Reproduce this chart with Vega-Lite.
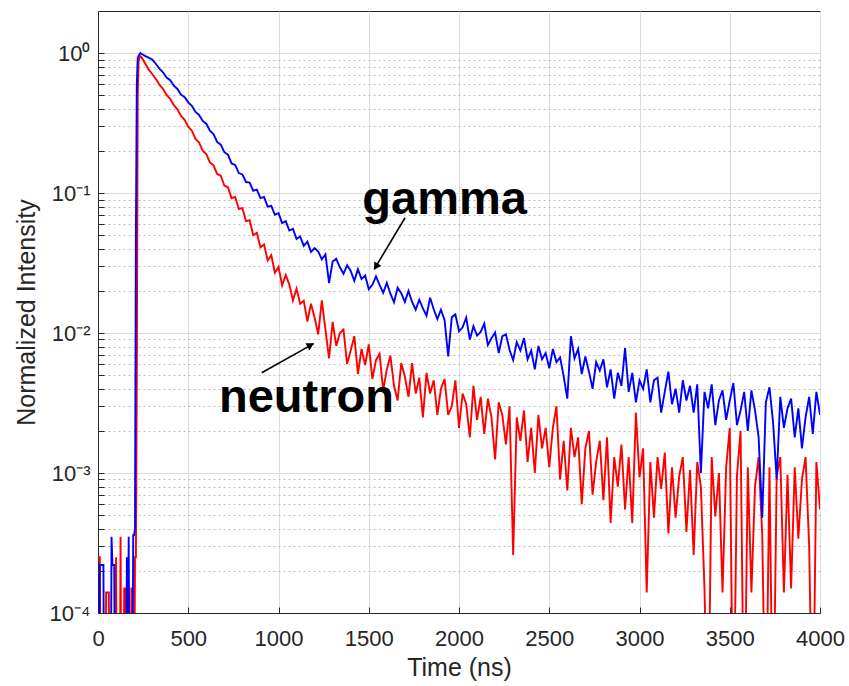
{
"$schema": "https://vega.github.io/schema/vega-lite/v6.json",
"width": 722, "height": 602,
"autosize": {"type": "none"},
"padding": {"left": 98, "top": 11, "right": 29, "bottom": 73},
"background": "white",
"config": {"view": {"stroke": "#262626", "strokeWidth": 1}, "font": "Liberation Sans"},
"datasets": {
"sig": [
{"t":0,"g":1e-5,"n":0.00025},{"t":5,"g":1e-5,"n":0.00025},{"t":10,"g":0.00022,"n":0.00025},{"t":15,"g":0.00022,"n":1e-5},{"t":20,"g":0.00022,"n":1e-5},{"t":25,"g":0.00022,"n":1e-5},{"t":30,"g":0.00022,"n":1e-5},{"t":35,"g":1e-5,"n":1e-5},{"t":40,"g":1e-5,"n":1e-5},{"t":45,"g":1e-5,"n":0.00014},{"t":50,"g":1e-5,"n":0.00014},{"t":55,"g":1e-5,"n":0.00014},{"t":60,"g":1e-5,"n":0.00014},{"t":65,"g":1e-5,"n":1e-5},{"t":70,"g":1e-5,"n":1e-5},{"t":75,"g":0.00035,"n":1e-5},{"t":80,"g":0.00022,"n":1e-5},{"t":85,"g":0.00022,"n":1e-5},{"t":90,"g":0.00022,"n":1e-5},{"t":95,"g":1e-5,"n":1e-5},{"t":100,"g":1e-5,"n":0.00025},{"t":105,"g":1e-5,"n":1e-5},{"t":110,"g":1e-5,"n":1e-5},{"t":115,"g":1e-5,"n":1e-5},{"t":120,"g":1e-5,"n":1e-5},{"t":125,"g":1e-5,"n":0.00035},{"t":130,"g":1e-5,"n":1e-5},{"t":135,"g":1e-5,"n":1e-5},{"t":140,"g":1e-5,"n":1e-5},{"t":145,"g":1e-5,"n":0.00015},{"t":150,"g":1e-5,"n":0.00015},{"t":155,"g":1e-5,"n":1e-5},{"t":160,"g":0.00025,"n":0.00015},{"t":165,"g":1e-5,"n":0.00015},{"t":170,"g":0.00035,"n":0.00015},{"t":175,"g":1e-5,"n":1e-5},{"t":180,"g":1e-5,"n":1e-5},{"t":185,"g":1e-5,"n":0.00015},{"t":190,"g":1e-5,"n":0.00015},{"t":195,"g":0.00036,"n":1e-5},{"t":200,"g":0.00036,"n":1e-5},{"t":205,"g":0.0004,"n":0.00025},{"t":210,"g":0.05,"n":0.00025},{"t":215,"g":0.6,"n":0.005},{"t":220,"g":0.92,"n":0.5},{"t":225,"g":0.96,"n":0.88},{"t":230,"g":0.98,"n":0.93},{"t":235,"g":1.0,"n":0.95},{"t":240,"g":0.99,"n":0.94},
{"t":260,"g":0.955,"n":0.85},{"t":280,"g":0.93,"n":0.765},{"t":300,"g":0.9,"n":0.71},{"t":320,"g":0.84,"n":0.655},{"t":340,"g":0.775,"n":0.595},{"t":360,"g":0.73,"n":0.556},{"t":380,"g":0.67,"n":0.503},{"t":400,"g":0.64,"n":0.472},{"t":420,"g":0.585,"n":0.425},{"t":440,"g":0.555,"n":0.397},{"t":460,"g":0.505,"n":0.356},{"t":480,"g":0.485,"n":0.334},{"t":500,"g":0.445,"n":0.298},{"t":520,"g":0.42,"n":0.279},{"t":540,"g":0.38,"n":0.244},{"t":560,"g":0.362,"n":0.23},{"t":580,"g":0.328,"n":0.201},{"t":600,"g":0.313,"n":0.19},{"t":620,"g":0.279,"n":0.166},{"t":640,"g":0.264,"n":0.158},{"t":660,"g":0.232,"n":0.137},{"t":680,"g":0.222,"n":0.133},{"t":700,"g":0.196,"n":0.113},{"t":720,"g":0.188,"n":0.11},{"t":740,"g":0.163,"n":0.092},{"t":760,"g":0.159,"n":0.094},{"t":780,"g":0.139,"n":0.077},{"t":800,"g":0.136,"n":0.078},{"t":820,"g":0.12,"n":0.063},{"t":840,"g":0.119,"n":0.064},{"t":860,"g":0.104,"n":0.05},{"t":880,"g":0.106,"n":0.052},{"t":900,"g":0.092,"n":0.041},{"t":920,"g":0.094,"n":0.043},{"t":940,"g":0.08,"n":0.033},{"t":960,"g":0.081,"n":0.036},{"t":980,"g":0.07,"n":0.027},{"t":1000,"g":0.072,"n":0.0297},
{"t":1020,"g":0.061,"n":0.0219},{"t":1040,"g":0.063,"n":0.026},{"t":1060,"g":0.054,"n":0.0222},{"t":1080,"g":0.0555,"n":0.0171},{"t":1100,"g":0.047,"n":0.0208},{"t":1120,"g":0.049,"n":0.0162},{"t":1140,"g":0.042,"n":0.017},{"t":1160,"g":0.045,"n":0.0121},{"t":1180,"g":0.038,"n":0.0162},{"t":1200,"g":0.0405,"n":0.0129},{"t":1220,"g":0.0383,"n":0.0098},{"t":1240,"g":0.0336,"n":0.0171},{"t":1260,"g":0.0365,"n":0.0106},{"t":1280,"g":0.0228,"n":0.0066},{"t":1300,"g":0.0324,"n":0.012},{"t":1320,"g":0.0339,"n":0.0081},{"t":1340,"g":0.0295,"n":0.01},{"t":1360,"g":0.0265,"n":0.0106},{"t":1380,"g":0.0305,"n":0.006},{"t":1400,"g":0.0278,"n":0.0075},{"t":1420,"g":0.0236,"n":0.0095},{"t":1440,"g":0.0286,"n":0.0051},{"t":1460,"g":0.0243,"n":0.0077},{"t":1480,"g":0.0258,"n":0.0059},{"t":1500,"g":0.0206,"n":0.0083},
{"t":1520,"g":0.0221,"n":0.0047},{"t":1540,"g":0.0254,"n":0.0064},{"t":1560,"g":0.0221,"n":0.0071},{"t":1580,"g":0.0194,"n":0.0039},{"t":1600,"g":0.0228,"n":0.0055},{"t":1620,"g":0.0191,"n":0.0069},{"t":1640,"g":0.0166,"n":0.0042},{"t":1660,"g":0.0211,"n":0.0033},{"t":1680,"g":0.0193,"n":0.0061},{"t":1700,"g":0.0167,"n":0.0049},{"t":1720,"g":0.02,"n":0.0035},{"t":1740,"g":0.0167,"n":0.0061},{"t":1760,"g":0.0147,"n":0.0037},{"t":1780,"g":0.0173,"n":0.0048},{"t":1800,"g":0.015,"n":0.0025},{"t":1820,"g":0.0133,"n":0.0052},{"t":1840,"g":0.0179,"n":0.0037},{"t":1860,"g":0.0148,"n":0.0046},{"t":1880,"g":0.0126,"n":0.0026},{"t":1900,"g":0.0147,"n":0.004},{"t":1920,"g":0.0124,"n":0.0047},{"t":1940,"g":0.0068,"n":0.0026},{"t":1960,"g":0.013,"n":0.003},{"t":1980,"g":0.0136,"n":0.0046},{"t":2000,"g":0.0103,"n":0.0021},
{"t":2020,"g":0.011,"n":0.0037},{"t":2040,"g":0.0129,"n":0.0031},{"t":2060,"g":0.009,"n":0.0018},{"t":2080,"g":0.0112,"n":0.0042},{"t":2100,"g":0.0096,"n":0.0024},{"t":2120,"g":0.0102,"n":0.0035},{"t":2140,"g":0.0117,"n":0.0019},{"t":2160,"g":0.0082,"n":0.0034},{"t":2180,"g":0.0092,"n":0.0025},{"t":2200,"g":0.0101,"n":0.00125},{"t":2220,"g":0.0072,"n":0.0032},{"t":2240,"g":0.0095,"n":0.0026},{"t":2260,"g":0.0098,"n":0.0016},{"t":2280,"g":0.0076,"n":0.003},{"t":2300,"g":0.0064,"n":0.00026},{"t":2320,"g":0.0086,"n":0.0025},{"t":2340,"g":0.0075,"n":0.0017},{"t":2360,"g":0.0092,"n":0.0028},{"t":2380,"g":0.0065,"n":0.0012},{"t":2400,"g":0.0075,"n":0.0021},{"t":2420,"g":0.0055,"n":0.001},{"t":2440,"g":0.0081,"n":0.0026},{"t":2460,"g":0.0065,"n":0.0015},{"t":2480,"g":0.0072,"n":0.0021},{"t":2500,"g":0.0056,"n":0.0011},
{"t":2520,"g":0.0077,"n":0.0021},{"t":2540,"g":0.0062,"n":0.003},{"t":2560,"g":0.0067,"n":0.0009},{"t":2580,"g":0.0049,"n":0.0017},{"t":2600,"g":0.0034,"n":0.00075},{"t":2620,"g":0.0095,"n":0.0021},{"t":2640,"g":0.0066,"n":0.0013},{"t":2660,"g":0.0077,"n":0.0018},{"t":2680,"g":0.0051,"n":0.0006},{"t":2700,"g":0.0068,"n":0.0015},{"t":2720,"g":0.0053,"n":0.002},{"t":2740,"g":0.004,"n":0.0007},{"t":2760,"g":0.0062,"n":0.0012},{"t":2780,"g":0.0054,"n":0.0017},{"t":2800,"g":0.0065,"n":0.00064},{"t":2820,"g":0.0041,"n":0.0018},{"t":2840,"g":0.0055,"n":0.00044},{"t":2860,"g":0.0034,"n":0.0013},{"t":2880,"g":0.0052,"n":0.0008},{"t":2900,"g":0.0042,"n":0.0016},{"t":2920,"g":0.0078,"n":0.00055},{"t":2940,"g":0.0038,"n":0.0013},{"t":2960,"g":0.0052,"n":0.00044},{"t":2980,"g":0.0032,"n":0.0027},{"t":3000,"g":0.0046,"n":0.00093},
{"t":3020,"g":0.004,"n":0.0015},{"t":3040,"g":0.0055,"n":0.00014},{"t":3060,"g":0.0032,"n":0.0012},{"t":3080,"g":0.0046,"n":0.00048},{"t":3100,"g":0.0048,"n":0.0013},{"t":3120,"g":0.0027,"n":0.00077},{"t":3140,"g":0.0038,"n":0.0014},{"t":3160,"g":0.0053,"n":0.00037},{"t":3180,"g":0.0031,"n":0.0011},{"t":3200,"g":0.004,"n":0.00048},{"t":3220,"g":0.0027,"n":0.00095},{"t":3240,"g":0.0046,"n":0.0013},{"t":3260,"g":0.0033,"n":0.00038},{"t":3280,"g":0.0042,"n":0.00105},{"t":3300,"g":0.0027,"n":0.00026},{"t":3320,"g":0.0043,"n":0.0012},{"t":3340,"g":0.001,"n":0.0008},{"t":3360,"g":0.0038,"n":0.00015},{"t":3380,"g":0.0029,"n":1e-5},{"t":3400,"g":0.0043,"n":0.0013},{"t":3420,"g":0.0022,"n":0.00049},{"t":3440,"g":0.0033,"n":0.001},{"t":3460,"g":0.0039,"n":0.00014},{"t":3480,"g":0.0024,"n":0.0011},{"t":3500,"g":0.0033,"n":0.0021},
{"t":3520,"g":0.0044,"n":1e-5},{"t":3540,"g":0.0022,"n":0.00096},{"t":3560,"g":0.0028,"n":0.002},{"t":3580,"g":0.0038,"n":1e-5},{"t":3600,"g":0.002,"n":0.0011},{"t":3620,"g":0.0039,"n":0.00014},{"t":3640,"g":0.0028,"n":0.0008},{"t":3660,"g":0.0018,"n":0.0013},{"t":3680,"g":0.00048,"n":0.00036},{"t":3700,"g":0.0032,"n":1e-5},{"t":3720,"g":0.0041,"n":0.0011},{"t":3740,"g":0.0023,"n":1e-5},{"t":3760,"g":0.0009,"n":0.00095},{"t":3780,"g":0.0035,"n":0.0013},{"t":3800,"g":0.0021,"n":0.00014},{"t":3820,"g":0.0029,"n":0.00097},{"t":3840,"g":0.0034,"n":0.00015},{"t":3860,"g":0.0018,"n":0.0011},{"t":3880,"g":0.0029,"n":0.00034},{"t":3900,"g":0.0015,"n":0.0009},{"t":3920,"g":0.0025,"n":0.0013},{"t":3940,"g":0.0035,"n":0.0003},{"t":3960,"g":0.0019,"n":1e-5},{"t":3980,"g":0.0038,"n":0.0012},{"t":4000,"g":0.0026,"n":0.00055}
],
"labels": [{"label":"gamma","t":1920,"v":0.0705},{"label":"neutron","t":1155,"v":0.00273}],
"arrows": [{"t":1701,"v":0.0667,"t2":1530,"v2":0.0285},{"t":907,"v":0.0052,"t2":1195,"v2":0.0084}],
"headG": [{"t":1540,"v":0.0298}],
"headN": [{"t":1178,"v":0.0082}]
},
"layer": [
{"data": {"name": "sig"},
 "mark": {"type": "line", "color": "#ff0000", "strokeWidth": 1.9, "clip": true},
 "encoding": {
  "x": {"field": "t", "type": "quantitative", "scale": {"domain": [0, 4000], "nice": false},
   "axis": {"title": "Time (ns)", "values": [0,500,1000,1500,2000,2500,3000,3500,4000], "format": "d",
    "grid": true, "gridColor": "#dcdcdc", "gridWidth": 1,
    "tickSize": -6, "tickColor": "#262626", "domainColor": "#262626",
    "labelFontSize": 22, "labelColor": "#262626", "labelPadding": 21, "labelFlush": false,
    "titleFontSize": 25, "titleFontWeight": "normal", "titleColor": "#262626", "titlePadding": 6}},
  "y": {"field": "n", "type": "quantitative", "scale": {"type": "log", "domain": [0.0001, 2], "nice": false},
   "axis": {"title": "Normalized Intensity",
    "values": [0.0001,0.0002,0.0003,0.0004,0.0005,0.0006,0.0007,0.0008,0.0009,0.001,0.002,0.003,0.004,0.005,0.006,0.007,0.008,0.009,0.01,0.02,0.03,0.04,0.05,0.06,0.07,0.08,0.09,0.1,0.2,0.3,0.4,0.5,0.6,0.7,0.8,0.9,1],
    "labelExpr": "datum.value==1?'10⁰':datum.value==0.1?'10⁻¹':datum.value==0.01?'10⁻²':datum.value==0.001?'10⁻³':datum.value==0.0001?'10⁻⁴':''",
    "labelOverlap": false, "labelFlush": false,
    "grid": true,
    "gridColor": {"condition": {"test": "datum.value==1||datum.value==0.1||datum.value==0.01||datum.value==0.001||datum.value==0.0001", "value": "#dcdcdc"}, "value": "#bdbdbd"},
    "gridDash": {"condition": {"test": "datum.value==1||datum.value==0.1||datum.value==0.01||datum.value==0.001||datum.value==0.0001", "value": []}, "value": [2, 3]},
    "tickSize": -6, "tickColor": "#262626", "domainColor": "#262626",
    "labelFontSize": 22, "labelColor": "#262626", "labelPadding": 14,
    "titleFontSize": 25, "titleFontWeight": "normal", "titleColor": "#262626", "titlePadding": 10}}
 }},
{"data": {"name": "sig"},
 "mark": {"type": "line", "color": "#0000ff", "strokeWidth": 1.9, "clip": true},
 "encoding": {"x": {"field": "t", "type": "quantitative"}, "y": {"field": "g", "type": "quantitative"}}},
{"data": {"name": "arrows"},
 "mark": {"type": "rule", "color": "black", "strokeWidth": 1.6},
 "encoding": {"x": {"field": "t", "type": "quantitative"}, "y": {"field": "v", "type": "quantitative"}, "x2": {"field": "t2"}, "y2": {"field": "v2"}}},
{"data": {"name": "headG"},
 "mark": {"type": "point", "shape": "triangle-up", "filled": true, "color": "black", "opacity": 1, "size": 70, "angle": 211},
 "encoding": {"x": {"field": "t", "type": "quantitative"}, "y": {"field": "v", "type": "quantitative"}}},
{"data": {"name": "headN"},
 "mark": {"type": "point", "shape": "triangle-up", "filled": true, "color": "black", "opacity": 1, "size": 70, "angle": 61},
 "encoding": {"x": {"field": "t", "type": "quantitative"}, "y": {"field": "v", "type": "quantitative"}}},
{"data": {"name": "labels"},
 "mark": {"type": "text", "font": "Liberation Sans", "fontWeight": "bold", "fontSize": 47, "align": "center", "baseline": "alphabetic", "color": "black"},
 "encoding": {"x": {"field": "t", "type": "quantitative"}, "y": {"field": "v", "type": "quantitative"}, "text": {"field": "label"}}}
]
}
